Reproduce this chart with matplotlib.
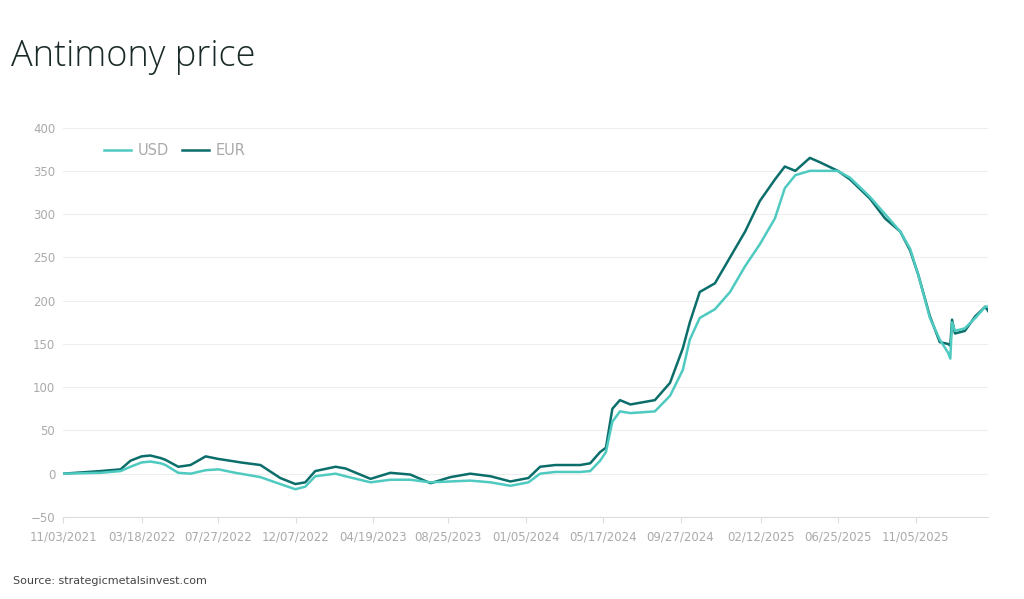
import matplotlib
matplotlib.use("Agg")
import matplotlib.pyplot as plt
import datetime as dt

start = dt.date(2021, 11, 3)
day_offsets = [0,63,98,115,134,149,167,175,197,218,244,266,295,304,338,372,398,415,432,467,484,527,561,595,630,664,698,733,767,798,818,844,887,904,921,931,942,955,973,1015,1041,1063,1075,1092,1118,1144,1170,1195,1221,1238,1256,1281,1298,1329,1350,1384,1410,1436,1453,1467,1487,1504,1518,1522,1525,1530,1547,1565,1582,1587]
usd = [0,1,3,8,13,14,12,10,1,0,4,5,1,0,-4,-12,-18,-15,-3,0,-3,-10,-7,-7,-10,-9,-8,-10,-14,-10,0,2,2,3,15,25,60,72,70,72,90,120,155,180,190,210,240,265,295,330,345,350,350,350,342,320,300,280,260,230,180,155,140,133,175,165,168,180,193,193]
eur = [0,3,5,15,20,21,18,16,8,10,20,17,14,13,10,-5,-12,-10,3,8,6,-6,1,-1,-11,-4,0,-3,-9,-5,8,10,10,12,25,30,75,85,80,85,105,145,175,210,220,250,280,315,340,355,350,365,360,350,340,318,295,280,258,230,182,152,150,148,178,162,165,182,193,188]
tick_labels = ["11/03/2021","03/18/2022","07/27/2022","12/07/2022","04/19/2023","08/25/2023","01/05/2024","05/17/2024","09/27/2024","02/12/2025","06/25/2025","11/05/2025"]

dates = [start + dt.timedelta(days=d) for d in day_offsets]
fig = plt.figure(figsize=(10.24, 5.99), dpi=100)
ax = fig.add_axes([0.062, 0.137, 0.903, 0.65])
ax.plot(dates, usd, color="#4fcac0", lw=1.8, label="USD", zorder=3)
ax.plot(dates, eur, color="#0b6e6a", lw=1.8, label="EUR", zorder=2)
ax.set_ylim(-50, 400)
ax.set_yticks(range(-50, 401, 50))
ticks = [dt.datetime.strptime(t, "%m/%d/%Y").date() for t in tick_labels]
ax.set_xticks(ticks)
ax.set_xticklabels(tick_labels)
ax.set_xlim(start, start + dt.timedelta(days=day_offsets[-1]))
ax.grid(axis="y", color="#eeeeee", lw=0.8)
for s in ["top", "right", "left"]:
    ax.spines[s].set_visible(False)
ax.spines["bottom"].set_color("#dddddd")
ax.tick_params(axis="both", colors="#aaaaaa", labelsize=8.5, length=0, pad=6)
ax.tick_params(axis="x", length=4, color="#dddddd")
leg = ax.legend(loc="upper left", bbox_to_anchor=(0.03, 0.995), ncol=2, frameon=False,
                fontsize=10.5, handlelength=1.8, columnspacing=0.9, handletextpad=0.5)
for t in leg.get_texts():
    t.set_color("#aaaaaa")
fig.text(0.011, 0.89, "Antimony price", fontsize=26, color="#1a2a28",
         family="Open Sans", fontweight="light")
fig.text(0.013, 0.025, "Source: strategicmetalsinvest.com", fontsize=8, color="#444444")
fig.savefig("out.png", dpi=100, facecolor="white")
